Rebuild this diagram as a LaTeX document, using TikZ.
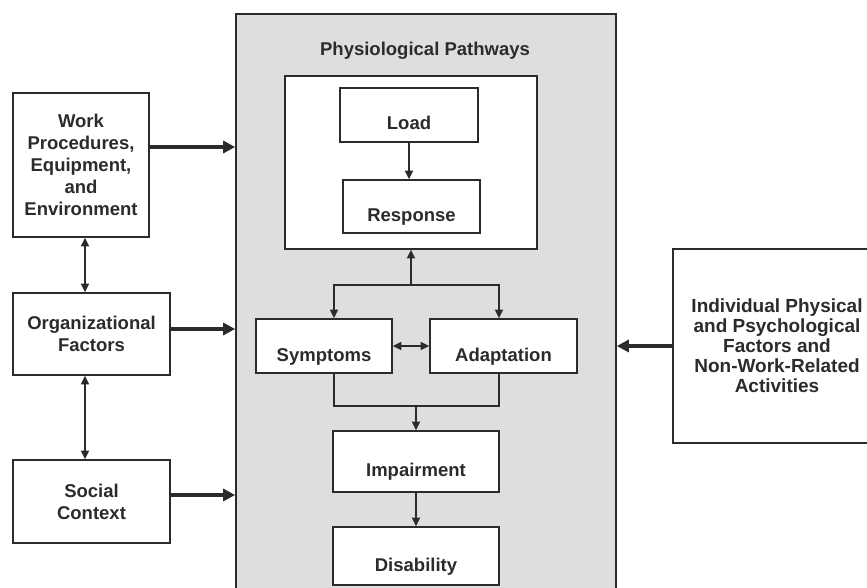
\documentclass[tikz,border=0pt]{standalone}
\usepackage{fontspec}
\setmainfont{Liberation Sans}
\usetikzlibrary{arrows.meta}
\definecolor{panelgray}{HTML}{DEDEDE}
\definecolor{ink}{HTML}{2B2B2B}

\begin{document}
\begin{tikzpicture}[x=1pt, y=-1pt, color=ink, font=\fontsize{18.5}{22}\selectfont\bfseries]
		\tikzstyle{box}=[rectangle, draw=ink, line width=1.6pt, fill=white, align=center, inner sep=2pt]
		\tikzstyle{stage}=[box, text height=30pt, text depth=0pt]
		\tikzstyle{link}=[line width=1.6pt, >={Triangle[length=8.5pt,width=8pt]}, ->]
		\tikzstyle{feed}=[line width=4.5pt, >={Triangle[length=12pt,width=12pt]}, ->]

		\useasboundingbox (0,0) rectangle (867,588);
		\clip (0,0) rectangle (867,588);

		% Draw the pathways panel
		\node[rectangle, draw=ink, line width=1.6pt, fill=panelgray, minimum width=380pt, minimum height=600pt, inner sep=0pt] (pathways) at (426,314) {};
		\node (title) at (425,51) {Physiological Pathways};
		\node[box, minimum width=252pt, minimum height=173pt] (loadresp) at (411,162.5) {};

		% Draw the stages
		\node[stage, minimum width=138pt, minimum height=54pt] (load) at (409,115) {Load};
		\node[stage, minimum width=137pt, minimum height=53pt] (resp) at (411.5,206.5) {Response};
		\node[stage, minimum width=136pt, minimum height=54pt] (sympt) at (324,346) {Symptoms};
		\node[stage, minimum width=147pt, minimum height=54pt] (adapt) at (503.5,346) {Adaptation};
		\node[stage, minimum width=166pt, minimum height=61pt] (impair) at (416,461.5) {Impairment};
		\node[stage, minimum width=166pt, minimum height=58pt] (disab) at (416,556) {Disability};

		% Draw the outside factors
		\node[box, minimum width=136pt, minimum height=144pt] (work) at (81,165) {Work\\Procedures,\\Equipment,\\and\\Environment};
		\node[box, minimum width=157pt, minimum height=82pt] (org) at (91.5,334) {Organizational\\Factors};
		\node[box, minimum width=157pt, minimum height=83pt] (social) at (91.5,501.5) {Social\\Context};
		\node[box, minimum width=208pt, minimum height=194pt, font=\fontsize{19}{20}\selectfont\bfseries] (indiv) at (777,346) {Individual Physical\\and Psychological\\Factors and\\Non-Work-Related\\Activities};

		% Draw arrows into the panel
		\coordinate (workout) at ([yshift=18pt]work.east);
		\coordinate (orgout) at ([yshift=5pt]org.east);
		\coordinate (socialout) at ([yshift=6.5pt]social.east);
		\path[feed] (workout) edge (workout -| pathways.west);
		\path[feed] (orgout) edge (orgout -| pathways.west);
		\path[feed] (socialout) edge (socialout -| pathways.west);
		\path[feed] (indiv.west) edge (indiv.west -| pathways.east);

		% Draw arrows between the factors
		\coordinate (workdown) at ([xshift=4pt]work.south);
		\path[link, <->] (workdown) edge (workdown |- org.north);
		\path[link, <->] (workdown |- org.south) edge (workdown |- social.north);

		% Draw arrows inside the panel
		\path[link] (load.south) edge (load.south |- resp.north);
		\coordinate (split) at ([yshift=-35pt]loadresp.south);
		\coordinate (symptop) at ([xshift=10pt]sympt.north);
		\coordinate (adapttop) at ([xshift=-4.5pt]adapt.north);
		\draw[link] (split) -- (loadresp.south);
		\draw[link] (split) -| (symptop);
		\draw[link] (split) -| (adapttop);
		\path[link, <->] (sympt.east) edge (adapt.west);
		\coordinate (symptbot) at ([xshift=10pt]sympt.south);
		\coordinate (adaptbot) at ([xshift=-4.5pt]adapt.south);
		\coordinate (merge) at ([yshift=24pt]impair.north);
		\draw[link, -] (symptbot) |- (adaptbot |- merge) -- (adaptbot);
		\draw[link] (merge) -- (impair.north);
		\path[link] (impair) edge (disab);

\end{tikzpicture}
\end{document}
